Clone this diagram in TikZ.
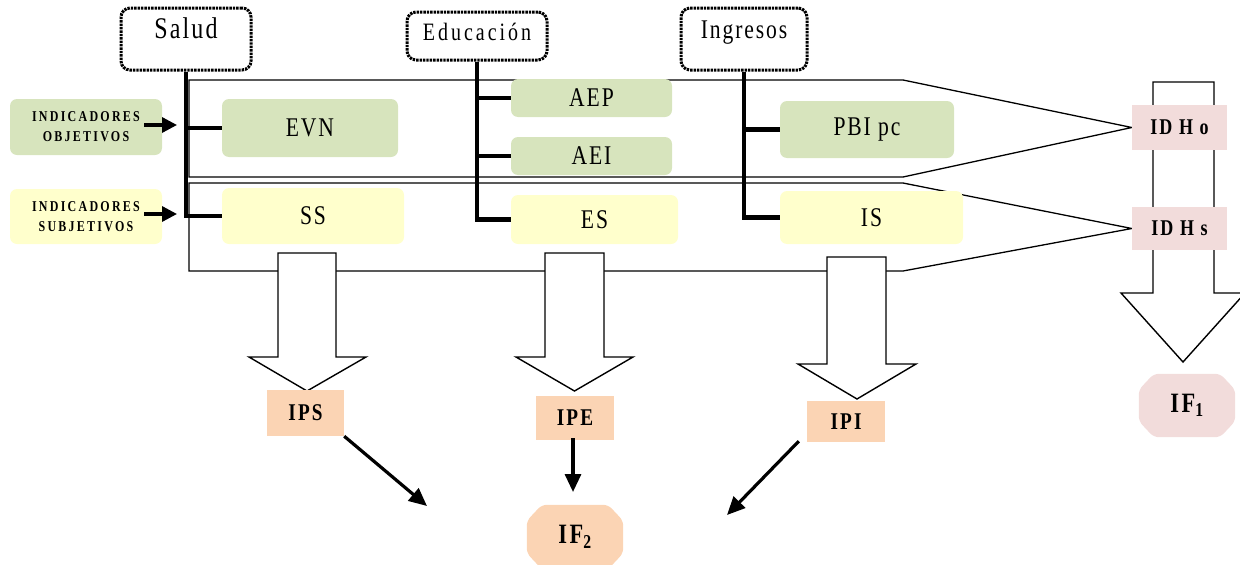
\documentclass[tikz,border=0pt]{standalone}
\usepackage{fontspec}
\setmainfont{Liberation Serif}
\newfontfamily\bodyf[FakeStretch=0.8,LetterSpace=7]{Liberation Serif}
\newfontfamily\eduf[FakeStretch=0.8,LetterSpace=12]{Liberation Serif}
\newfontfamily\indf[FakeStretch=0.8,LetterSpace=15]{Liberation Serif}
\newfontfamily\boldf[FakeStretch=0.8,LetterSpace=9]{Liberation Serif}
\usetikzlibrary{arrows.meta}
\definecolor{cgreen}{HTML}{D7E4BD}
\definecolor{cyellow}{HTML}{FFFFCC}
\definecolor{cpink}{HTML}{F2DCDB}
\definecolor{corange}{HTML}{FBD4B4}
\pgfdeclarelayer{bg}
\pgfdeclarelayer{mid}
\pgfsetlayers{bg,mid,main}
\tikzset{
  titlebox/.style={draw, line width=3pt, dash pattern=on 2.4pt off 1pt, rounded corners=9pt, inner sep=0pt, fill=white},
  softbox/.style={rounded corners=7pt, inner sep=0pt, font=\bodyf\fontsize{27}{29}\selectfont},
  gbox/.style={softbox, fill=cgreen},
  ybox/.style={softbox, fill=cyellow},
  indbox/.style={rounded corners=7pt, inner sep=0pt, align=center, font=\indf\bfseries\fontsize{15}{20}\selectfont},
  idhbox/.style={fill=cpink, inner sep=0pt, font=\boldf\bfseries\fontsize{22.5}{24}\selectfont},
  ipbox/.style={fill=corange, inner sep=0pt, font=\boldf\bfseries\fontsize{24}{26}\selectfont},
  ifbox/.style={rectangle, inner sep=0pt, font=\boldf\bfseries\fontsize{28}{30}\selectfont},
  branch/.style={line width=4.5pt, line join=miter},
  band/.style={line width=1.3pt, line join=miter},
  blk/.style={draw, fill=white, line width=1.4pt, line join=miter},
  indarrow/.style={line width=3.3pt, -{Triangle[length=15pt,width=15pt]}},
  farrow/.style={line width=3.2pt, -{Triangle[length=18pt,width=16pt]}}
}
\newcommand{\octfill}[2]{%
  \fill[#2, rounded corners=5pt]
    ([xshift=15pt]#1.north west) -- ([xshift=-15pt]#1.north east) --
    ([yshift=-16pt]#1.north east) -- ([yshift=16pt]#1.south east) --
    ([xshift=-15pt]#1.south east) -- ([xshift=15pt]#1.south west) --
    ([yshift=16pt]#1.south west) -- ([yshift=-16pt]#1.north west) -- cycle;}
\begin{document}
\begin{tikzpicture}[x=1pt,y=-1pt]
\useasboundingbox (0,0) rectangle (1240,565);
\clip (0,0) rectangle (1240,565);

% title boxes
\node[titlebox, minimum width=130pt, text height=30pt, text depth=32pt, font=\bodyf\fontsize{30}{32}\selectfont] (salud) at (186,39) {Salud};
\node[titlebox, minimum width=140pt, text height=28pt, text depth=20pt, font=\eduf\fontsize{25}{27}\selectfont] (edu) at (477,36) {Educación};
\node[titlebox, minimum width=126pt, text height=30pt, text depth=32pt, font=\bodyf\fontsize{27}{29}\selectfont] (ing) at (744,39) {Ingresos};

% indicator boxes
\node[indbox, fill=cgreen, minimum width=152pt, minimum height=56pt] (indobj) at (86,127) {INDICADORES\\OBJETIVOS};
\node[indbox, fill=cyellow, minimum width=152pt, minimum height=55pt] (indsub) at (86,216.5) {INDICADORES\\SUBJETIVOS};

% green / yellow boxes
\node[gbox, minimum width=176pt, minimum height=58pt] (evn) at (310,128) {EVN};
\node[ybox, minimum width=182pt, minimum height=56pt] (ss) at (313,216) {SS};
\node[gbox, minimum width=161pt, minimum height=38pt] (aep) at (591.5,98) {AEP};
\node[gbox, minimum width=161pt, minimum height=38pt] (aei) at (591.5,156) {AEI};
\node[ybox, minimum width=167pt, minimum height=49pt] (es) at (594.5,219.5) {ES};
\node[gbox, minimum width=174pt, minimum height=57pt] (pbi) at (867,129.5) {PBI pc};
\node[ybox, minimum width=183pt, minimum height=53pt] (is) at (871.5,217.5) {IS};

% IDH boxes
\node[idhbox, minimum width=95pt, minimum height=45pt] (idho) at (1179.5,127.5) {ID H o};
\node[idhbox, minimum width=95pt, minimum height=43pt] (idhs) at (1179.5,228.5) {ID H s};

% IP boxes
\node[ipbox, minimum width=77pt, minimum height=46pt] (ips) at (305.5,413) {IPS};
\node[ipbox, minimum width=78pt, minimum height=44pt] (ipe) at (575,418) {IPE};
\node[ipbox, minimum width=78pt, minimum height=41pt] (ipi) at (846,421.5) {IPI};

% IF nodes
\node[ifbox, minimum width=96pt, minimum height=63pt] (if1) at (1187,405.5) {IF\textsubscript{1}};
\node[ifbox, minimum width=96pt, minimum height=64pt] (if2) at (575,537) {IF\textsubscript{2}};

% bands and octagon backgrounds
\begin{pgfonlayer}{bg}
\draw[band] (189,80) -- (903,80) -- (idho.west) -- (903,177) -- (189,177) -- cycle;
\draw[band] (189,183) -- (903,183) -- (idhs.west) -- (903,271) -- (189,271) -- cycle;
\octfill{if1}{cpink}
\octfill{if2}{corange}
\end{pgfonlayer}

% block arrows
\begin{pgfonlayer}{mid}
\draw[blk] (278,253) -- (336,253) -- (336,357) -- (366,357) -- (307,391) -- (249,357) -- (278,357) -- cycle;
\draw[blk] (545,253) -- (604,253) -- (604,357) -- (633,357) -- (574.5,391) -- (516,357) -- (545,357) -- cycle;
\draw[blk] (827,257) -- (886,257) -- (886,364) -- (916,364) -- (857,399) -- (798,364) -- (827,364) -- cycle;
\draw[blk] (1153,82) -- (1214,82) -- (1214,293) -- (1245,293) -- (1183,362) -- (1121,293) -- (1153,293) -- cycle;
\end{pgfonlayer}

% branch connectors
\draw[branch] (salud.south) |- (ss.west);
\draw[branch] (salud.south |- evn.west) -- (evn.west);
\draw[branch] (edu.south) |- (es.west);
\draw[branch] (edu.south |- aep.west) -- (aep.west);
\draw[branch] (edu.south |- aei.west) -- (aei.west);
\draw[branch] (ing.south) |- (is.west);
\draw[branch] (ing.south |- pbi.west) -- (pbi.west);

% indicator arrows
\coordinate (ao) at (177,125);
\coordinate (as) at (177,214);
\draw[indarrow] ([xshift=-18pt]indobj.east |- ao) -- (ao);
\draw[indarrow] ([xshift=-18pt]indsub.east |- as) -- (as);

% arrows towards IF2
\coordinate (t1) at (427,506);
\coordinate (t2) at (573,492);
\coordinate (t3) at (727,515);
\draw[farrow] (ips.south east) -- (t1);
\draw[farrow] ([yshift=2pt]ipe.south -| t2) -- (t2);
\draw[farrow] ([xshift=-8pt,yshift=1pt]ipi.south west) -- (t3);
\end{tikzpicture}
\end{document}
